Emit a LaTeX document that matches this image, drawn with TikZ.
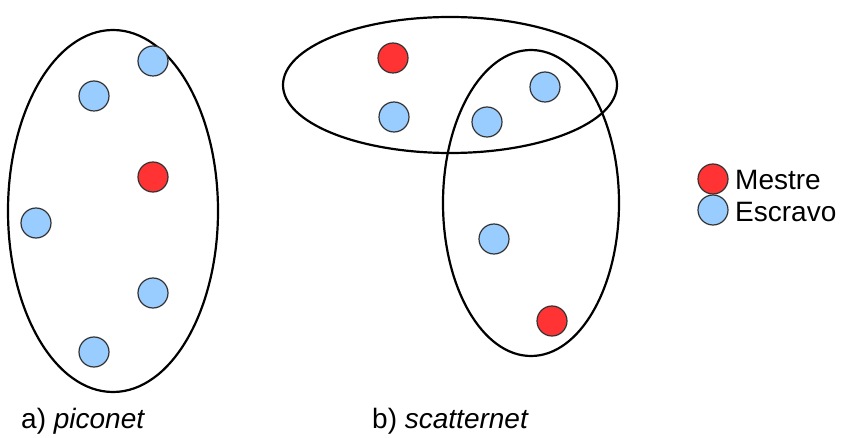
\documentclass[tikz,border=0pt]{standalone}
\usepackage{fontspec}
\setmainfont{Liberation Sans}
\usetikzlibrary{positioning}
\definecolor{masterred}{HTML}{FF3333}
\definecolor{slaveblue}{HTML}{99CCFF}

\begin{document}
\begin{tikzpicture}[
  x=1pt,y=-1pt,
  group/.style={draw=black,line width=2.2pt},
  device/.style={circle,draw=black!80,line width=1.2pt,minimum size=30pt,inner sep=0pt},
  master/.style={device,fill=masterred},
  slave/.style={device,fill=slaveblue},
  label/.style={font=\fontsize{28}{32}\selectfont,text=black},
]
\useasboundingbox (0,0) rectangle (846,438);

% piconet
\draw[group] (113,211) ellipse[x radius=105,y radius=181];
\node[slave] (p1) at (153,61) {};
\node[slave] (p2) at (94,96) {};
\node[master] (pm) at (153,177) {};
\node[slave] (p3) at (36,223) {};
\node[slave] (p4) at (153,293) {};
\node[slave] (p5) at (94,352) {};

% scatternet
\draw[group] (450,85) ellipse[x radius=167,y radius=68];
\draw[group] (531,203) ellipse[x radius=88,y radius=153];
\node[master] (sm1) at (393,58) {};
\node[slave] (s1) at (394,117) {};
\node[slave] (s2) at (487,122) {};
\node[slave] (s3) at (545,87) {};
\node[slave] (s4) at (494,239) {};
\node[master] (sm2) at (552,321) {};

% legend
\node[master] (kmaster) at (713,179) {};
\node[slave] (kslave) at (713,210) {};
\node[label,anchor=west,inner sep=0pt] (tmaster) at (735,180) {Mestre};
\node[label,anchor=west,inner sep=0pt] (tslave) at (735,212) {Escravo};

\node[label,anchor=west,inner sep=0pt] (ta) at (21,421) {a) \textit{piconet}};
\node[label,anchor=west,inner sep=0pt] (tb) at (372,421) {b) \textit{scatternet}};
\end{tikzpicture}
\end{document}
